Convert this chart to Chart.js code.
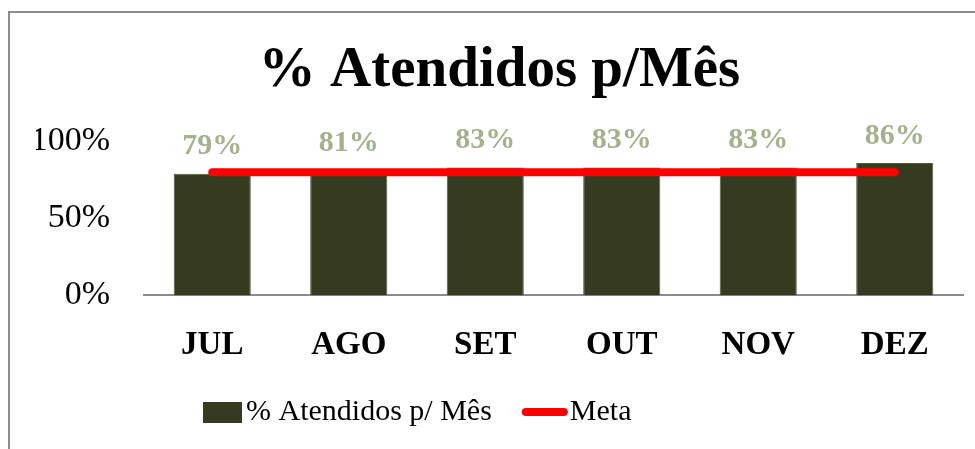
<!DOCTYPE html>
<html><head><meta charset="utf-8">
<script src="https://cdn.jsdelivr.net/npm/chart.js@4"></script>
<style>
html,body{margin:0;padding:0;background:#fff;overflow:hidden}
#wrap{position:relative;width:975px;height:449px}
#frame{position:absolute;left:8px;top:11px;width:1000px;height:500px;border-left:2px solid #8c8c8c;border-top:2px solid #8c8c8c;pointer-events:none}
canvas{position:absolute;left:0;top:0}
</style></head>
<body>
<div id="wrap"><canvas id="c" width="975" height="449"></canvas><div id="frame"></div></div>
<script>
const categories = ['JUL','AGO','SET','OUT','NOV','DEZ'];
const atendidos = [0.79, 0.81, 0.83, 0.83, 0.83, 0.86];
const meta = [0.80, 0.80, 0.80, 0.80, 0.80, 0.80];
const yTicks = [0, 0.5, 1];
const titleText = '% Atendidos p/Mês';
const seriesNames = ['% Atendidos p/ Mês', 'Meta'];

const SERIF = '"Liberation Serif", "DejaVu Serif", serif';
const BAR = '#363b1f';
const RED = '#ff0000';
const LABEL = '#a3b28c';

const valueLabels = {
  id: 'valueLabels',
  afterDatasetsDraw(chart) {
    const ctx = chart.ctx;
    const m = chart.getDatasetMeta(1);
    ctx.save();
    ctx.font = 'bold 30px ' + SERIF;
    ctx.fillStyle = LABEL;
    ctx.textAlign = 'center';
    ctx.textBaseline = 'middle';
    m.data.forEach((el, i) => {
      ctx.fillText(Math.round(atendidos[i] * 100) + '%', el.x, el.y - 27);
    });
    ctx.restore();
  }
};

const customLegend = {
  id: 'customLegend',
  afterDraw(chart) {
    const ctx = chart.ctx;
    const y = 412;
    ctx.save();
    ctx.font = '30px ' + SERIF;
    ctx.textBaseline = 'middle';
    ctx.fillStyle = BAR;
    let x = 203;
    ctx.fillRect(x, y - 10, 39, 21);
    x += 43;
    ctx.fillStyle = '#000';
    ctx.fillText(seriesNames[0], x, y);
    x += ctx.measureText(seriesNames[0]).width + 34;
    ctx.strokeStyle = RED;
    ctx.lineWidth = 8;
    ctx.lineCap = 'round';
    ctx.beginPath();
    ctx.moveTo(x, y);
    ctx.lineTo(x + 38, y);
    ctx.stroke();
    x += 44;
    ctx.fillText(seriesNames[1], x, y);
    ctx.restore();
  }
};

new Chart(document.getElementById('c'), {
  data: {
    labels: categories,
    datasets: [
      { type: 'line', label: seriesNames[1], data: meta, borderColor: RED, borderWidth: 8,
        borderCapStyle: 'round', pointRadius: 0, pointHoverRadius: 0, fill: false, order: 0 },
      { type: 'bar', label: seriesNames[0], data: atendidos, backgroundColor: BAR,
        borderColor: '#55593f', borderWidth: 1, barPercentage: 0.565, categoryPercentage: 1, order: 1 }
    ]
  },
  options: {
    responsive: false,
    animation: false,
    devicePixelRatio: 1,
    layout: { padding: { left: 36, right: 12, top: 0, bottom: 54 } },
    plugins: {
      legend: { display: false },
      tooltip: { enabled: false },
      title: { display: true, text: titleText, color: '#000',
        font: { family: SERIF, size: 57, weight: 'bold' },
        padding: { top: 37, bottom: 36 } }
    },
    scales: {
      x: {
        grid: { display: false, drawTicks: false },
        border: { display: true, color: '#8c8c8c', width: 2 },
        ticks: { color: '#000', font: { family: SERIF, size: 33, weight: 'bold' }, padding: 30 }
      },
      y: {
        min: 0, max: 1,
        afterBuildTicks(scale) { scale.ticks = yTicks.map(v => ({ value: v })); },
        afterFit(scale) { scale.width = 108; },
        grid: { display: false, drawTicks: false },
        border: { display: false },
        ticks: { color: '#000', font: { family: SERIF, size: 34 }, padding: 34,
          callback: v => Math.round(v * 100) + '%' }
      }
    }
  },
  plugins: [valueLabels, customLegend]
});
</script>
</body></html>
